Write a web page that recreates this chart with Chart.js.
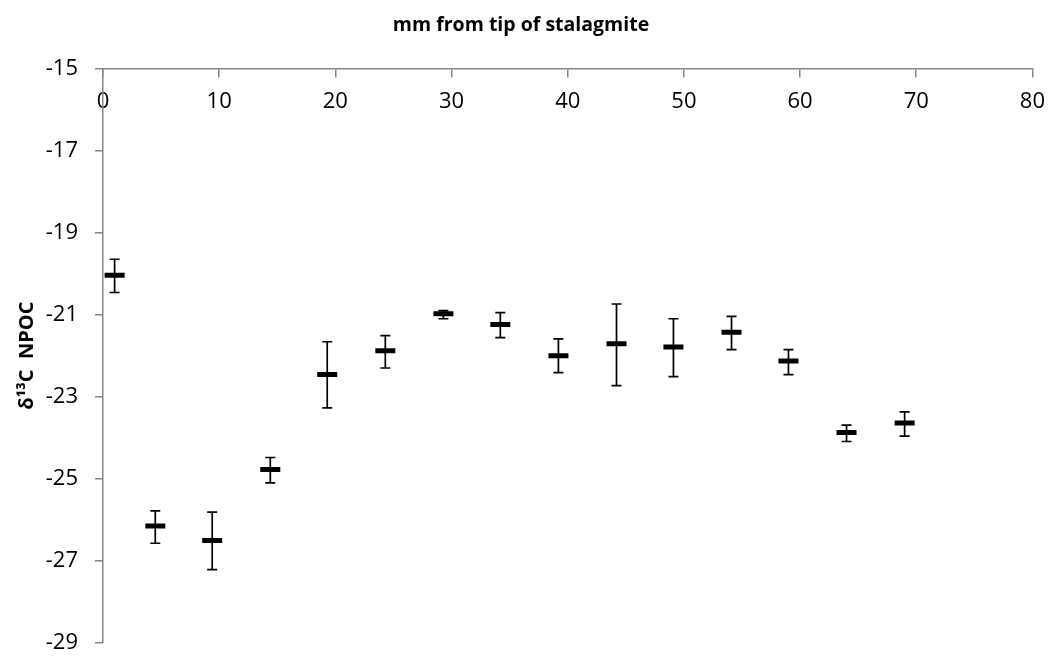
<!DOCTYPE html>
<html lang="en">
<head>
    <meta charset="UTF-8">
    <title>δ13C NPOC vs distance</title>
    <script src="https://cdn.jsdelivr.net/npm/chart.js"></script>
    <style>
        body {
            margin: 0;
            background: #fff;
        }
        #wrap {
            width: 1057px;
            height: 658px;
        }
    </style>
</head>
<body>
    <div id="wrap"><canvas id="myChart"></canvas></div>
    <script>
        // mm from tip, mean δ13C and the top / bottom of each error bar
        const distMm = [1.0, 4.5, 9.4, 14.4, 19.3, 24.3, 29.3, 34.2, 39.2, 44.2, 49.1, 54.1, 59.0, 64.0, 69.0];
        const d13C   = [-20.04, -26.15, -26.50, -24.77, -22.46, -21.88, -20.98, -21.24, -22.00, -21.71, -21.79, -21.43, -22.13, -23.87, -23.64];
        const errTop = [-19.65, -25.78, -25.81, -24.48, -21.66, -21.51, -20.90, -20.95, -21.59, -20.74, -21.10, -21.04, -21.85, -23.69, -23.37];
        const errBot = [-20.46, -26.57, -27.21, -25.10, -23.27, -22.30, -21.10, -21.56, -22.41, -22.73, -22.51, -21.85, -22.46, -24.09, -23.96];

        const axisGrey = '#868686';
        Chart.defaults.font.family = '"Open Sans", sans-serif';
        Chart.defaults.color = '#000';

        // vertical bars with small caps, drawn under the markers
        const errorBars = {
            id: 'errorBars',
            beforeDatasetsDraw(chart) {
                const ctx = chart.ctx;
                const xs = chart.scales.x, ys = chart.scales.y;
                ctx.save();
                ctx.strokeStyle = '#000';
                ctx.lineWidth = 1.7;
                for (let i = 0; i < distMm.length; i++) {
                    const px = xs.getPixelForValue(distMm[i]);
                    const top = ys.getPixelForValue(errTop[i]);
                    const bot = ys.getPixelForValue(errBot[i]);
                    ctx.beginPath();
                    ctx.moveTo(px, top);
                    ctx.lineTo(px, bot);
                    ctx.moveTo(px - 5, top);
                    ctx.lineTo(px + 5, top);
                    ctx.moveTo(px - 5, bot);
                    ctx.lineTo(px + 5, bot);
                    ctx.stroke();
                }
                ctx.restore();
            }
        };

        const ctx = document.getElementById('myChart').getContext('2d');
        const chart = new Chart(ctx, {
            type: 'scatter',
            data: {
                datasets: [{
                    label: 'δ13C NPOC',
                    data: distMm.map((x, i) => ({ x: x, y: d13C[i] })),
                    pointStyle: 'line',
                    pointRadius: 10,
                    pointHoverRadius: 10,
                    borderColor: '#000',
                    backgroundColor: '#000',
                    borderWidth: 5,
                    showLine: false
                }]
            },
            options: {
                responsive: true,
                maintainAspectRatio: false,
                animation: false,
                layout: {
                    padding: { left: 0, right: 15, top: 0, bottom: 15 }
                },
                plugins: {
                    legend: { display: false },
                    tooltip: { enabled: false },
                    title: {
                        display: true,
                        text: 'mm from tip of stalagmite',
                        font: { size: 19.5, weight: 'bold' },
                        color: '#000',
                        padding: { top: 14, bottom: 31 }
                    }
                },
                scales: {
                    x: {
                        type: 'linear',
                        position: { y: -15 },
                        min: 0,
                        max: 80,
                        ticks: {
                            stepSize: 10,
                            font: { size: 22 },
                            padding: 12
                        },
                        grid: {
                            display: true,
                            drawOnChartArea: false,
                            drawTicks: true,
                            tickLength: 8,
                            color: axisGrey,
                            lineWidth: 1.5
                        },
                        border: { display: true, color: axisGrey, width: 1.5 }
                    },
                    y: {
                        type: 'linear',
                        position: 'left',
                        min: -29,
                        max: -15,
                        afterFit(scale) {
                            scale.width = 103;
                            // label gap is horizontal only, don't let it pad the plot vertically
                            scale.paddingTop = 0;
                            scale.paddingBottom = 0;
                        },
                        ticks: {
                            stepSize: 2,
                            font: { size: 22 },
                            padding: 17
                        },
                        grid: {
                            display: true,
                            drawOnChartArea: false,
                            drawTicks: true,
                            tickLength: 8,
                            color: axisGrey,
                            lineWidth: 1.5
                        },
                        border: { display: true, color: axisGrey, width: 1.5 },
                        title: {
                            display: true,
                            text: 'δ¹³C  NPOC',
                            font: { size: 20, weight: 'bold' },
                            color: '#000',
                            padding: { top: 15, bottom: 0 }
                        }
                    }
                }
            },
            plugins: [errorBars]
        });
    </script>
</body>
</html>
